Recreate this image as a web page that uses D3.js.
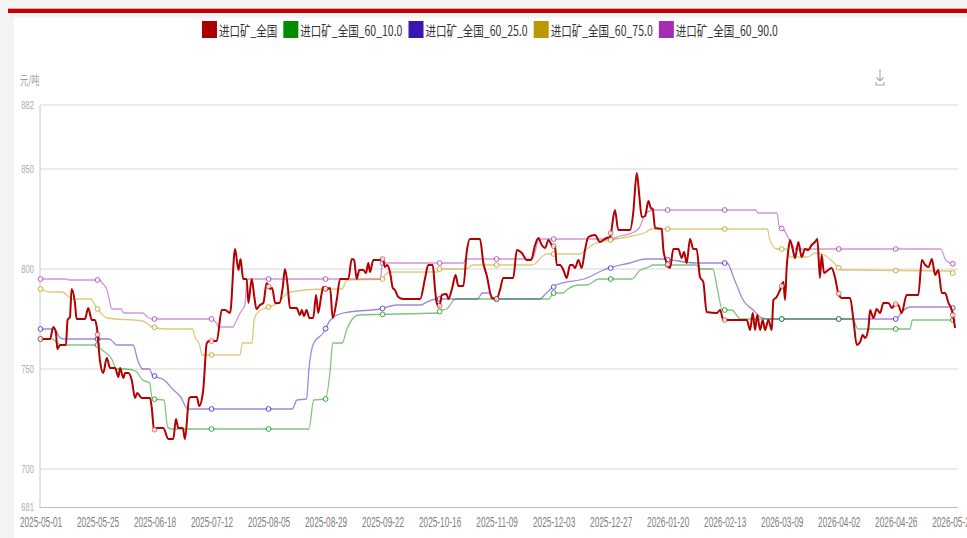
<!DOCTYPE html>
<html lang="zh">
<head>
<meta charset="UTF-8">
<title>进口矿价格</title>
<script src="https://d3js.org/d3.v7.min.js"></script>
<style>
  html, body { margin: 0; padding: 0; background: #f4f4f4; overflow: hidden; }
  svg { display: block; }
</style>
</head>
<body>
<div id="chart"></div>
<script>
// day offsets are counted from startDate
var startDate = "2025-05-01";
var tickStepDays = 24;
var tickCount = 17;
var yTicks = [681, 700, 750, 800, 850, 882];
var yUnit = "元/吨";

var seriesNames = ["进口矿_全国", "进口矿_全国_60_10.0", "进口矿_全国_60_25.0", "进口矿_全国_60_75.0", "进口矿_全国_60_90.0"];
var seriesColors = ["#ac0000", "#008c00", "#3a16b4", "#b99800", "#a42db2"];

var redAll = [[0,765],[4,765],[5.4,771],[6.5,768],[7.1,760],[8.2,762],[10.7,762],[11.4,774.5],[12.4,776],[13.1,790],[14.5,783],[15.2,775],[18.7,775],[20.1,780.5],[21.6,774.5],[22.9,774.5],[23.7,771],[25,754.5],[26.4,748],[27.9,755.5],[29.3,750.5],[31.4,750.5],[32.8,746],[33.5,750.5],[34.9,745.5],[35.6,748],[37,748],[38.4,744.5],[39.8,735.5],[40.7,738],[42.6,735.5],[46.1,735.5],[46.8,731],[47.8,719.5],[48.9,720.5],[51.7,720.5],[53.8,715],[55.9,715],[57,725],[58,720.5],[59.9,720.5],[60.8,715],[62.6,735.5],[63.6,736],[65.8,736],[66.8,731.5],[68.5,739.5],[70,763],[71.1,764],[74.2,764],[76.3,779.5],[77.7,779.5],[79.8,778],[81.9,810],[83.3,799.5],[84.2,805],[85.3,795],[86.8,795],[87.5,783],[88.9,795],[89.9,787],[90.9,780],[92.4,782],[93.8,783],[95.2,793],[96.6,790],[97.5,790.5],[98.8,783],[100.6,783],[102,791],[102.9,800],[104.1,791],[105,780.5],[107.8,780.5],[109.2,777],[110,779.5],[110.9,776.5],[112,779.5],[113.2,775.5],[114.8,775.5],[116,787],[116.9,778],[118.1,786],[119,791],[120.2,790],[121.9,790.5],[123,775.5],[124.7,784.5],[126.1,795],[129.6,795],[131,805],[132,804.5],[133.1,795],[134.2,799.5],[135.9,799.5],[137,798],[138,803],[138.7,798.5],[140.1,804.5],[142.9,804.5],[144.1,805],[145,801],[146,802],[147.1,798.5],[148.3,790.5],[149.2,789.5],[150.6,786],[152.7,785],[159.8,785],[161.9,795.5],[163.2,802],[165.1,802],[166.1,789.5],[166.8,783],[167.9,781],[168.9,787],[170.9,787.5],[171.7,785],[173.4,791],[174.7,797],[175.9,791.5],[178,791.5],[179.4,808.5],[180.8,815],[185,815],[186.4,803],[187.8,797],[190,785.5],[192,785],[193.4,789.5],[194.8,795.5],[199,795.5],[200.5,809.5],[202.6,808],[204.7,804.5],[206.5,804.5],[208.2,812],[209.6,815.5],[211,812],[212.4,810.5],[213.8,814.5],[215.2,812],[216.6,811],[217.3,802],[218.7,802],[220.1,799.5],[221.5,795.5],[222.9,802],[224,802],[225,800.5],[226.4,804.5],[227.8,800.5],[229.2,809.5],[230.6,816],[233.4,817],[235.5,813.5],[236.9,814.5],[238.3,815.5],[239.7,816],[241.8,829.5],[243.2,819.5],[248.2,819.5],[249.5,828],[251,848],[252.1,836],[253.1,826],[254.5,826.5],[255.9,834],[256.9,830.5],[257.7,830],[258.7,820.5],[261.5,820],[262.2,809.5],[263.6,803],[265,800.5],[266.4,810],[268.5,810],[269.9,805.5],[270.9,808.5],[272,803],[273.4,815],[274.8,810],[276.2,810],[277.6,796],[279,793.5],[280.4,778.5],[284.7,778],[286.1,779.5],[287.4,774.5],[297.3,774.5],[298.7,769.5],[299.8,778],[300.8,769.5],[301.7,777],[302.9,769.5],[304,774.5],[305,769.5],[306.4,774.5],[307.8,769.5],[308.5,784.5],[309.9,786],[311.3,789.5],[312.7,793.5],[313.4,784.5],[314.1,801],[314.8,809.5],[315.5,814.5],[316.7,809.5],[317.6,805.5],[319,813.5],[320.4,806],[321.8,810],[323.2,809.5],[324.6,812],[326,813.5],[327,815],[328.1,795.5],[328.8,807],[329.8,798],[331.6,799.5],[333,800.5],[334.4,796],[335.8,788],[337.3,785.5],[340.8,785.5],[342.2,774.5],[343.6,762],[345,763.5],[346.1,767],[347.1,765.5],[348.5,770.5],[349.2,779.5],[350.6,775.5],[352,780],[353.4,778],[354.8,783],[356.9,783],[358.4,780.5],[359.8,782.5],[361.1,782],[362.5,778],[364.6,787],[369.5,787],[371,804.5],[372.4,802],[373.8,801],[375.2,805],[376.6,797],[377.9,799.5],[379.4,788],[380.8,788],[382.2,783],[383.6,779.5],[385,770.5]];

var green10 = [[0,765],[5,765],[7,763],[9.5,762],[24,762],[25,760.5],[30,755],[32,750],[36,750],[40,749],[43,744.5],[46,743],[47,735],[52,734.5],[53.5,721],[55,720],[113,720],[115,734.5],[120,735],[122,750],[123,763],[127,763],[129,770],[131,774.5],[134,777],[167,778],[169,779.5],[171,780],[174,784.5],[175,785],[214,785],[216,788],[220,788],[222,790],[227,792],[230,792],[235,795],[249,795],[252,799],[256,801],[258,802],[276,802],[278,800],[283,800],[285,789.5],[287,779.5],[291,779.5],[293,777],[294.5,775],[342,775],[344,770],[366,770],[367,774.5],[385,774.5]];

var purple25 = [[0,770],[6,770],[8,766],[9.5,765],[29,765],[31,763],[32,762],[39,762],[41,754],[43,750],[46,750],[47,747],[52,744.5],[56,739.5],[59,736],[62,730],[106,730],[108,734.5],[112,735],[113,750],[115,763],[119,768],[122,774.5],[125,777],[130,778.5],[143,780],[150,782],[160,782],[163,783.7],[167,785],[184,785],[186,788],[189,788],[191,785],[210,785],[213,788],[217,792],[230,795.5],[237,799.5],[248,803],[255,805],[261,805],[276,803],[289,803],[292,795],[296,784],[300,779.5],[303,776],[306,775],[360,775],[363,779],[366,781],[383,781],[385,780]];

var gold75 = [[0,790],[4,788.5],[9,788.5],[12,786],[13,785],[21,785],[24,780],[28,775.5],[43,774],[47,771],[53,770],[64,770],[65,766],[67,762],[68,757],[84,757],[85,763],[89,763],[90,775],[92,779],[96,781],[100,783],[103,787],[105,788.5],[119,790],[127,790],[129,794.5],[144,795],[145,797],[147,798.5],[167,798.5],[168,800],[179,800],[182,802],[207,802],[213,807.5],[227,807.5],[230,810],[233,812.5],[240,814.5],[249,816.5],[255,818.5],[257,820],[306,820],[307,814.5],[310,810],[314,810],[315.5,806],[323,806],[326,808],[330,807],[334,803],[337,799.5],[383,799],[385,797]];

var magenta90 = [[0,795],[11,795],[12,794.5],[25,794.5],[26,793],[28,789.5],[29,784.5],[30,780],[34,780],[35,778],[43,778],[45,776],[47,775],[72,775],[74,773],[75,771],[81,771],[82,773],[84,778],[86,782],[87,794.5],[88,795],[143,795],[144,803],[178,803],[179,805],[207,805],[210,815],[240,815],[244,816.5],[249,818],[252,820.5],[255,828],[258,829.5],[301,829.5],[302,828],[310,828],[311,821],[313,819.5],[315,815],[318,810],[379,810],[381,804.5],[385,802]];

var seriesData = [redAll, green10, purple25, gold75, magenta90];

var width = 967, height = 538;
var t0 = d3.utcParse("%Y-%m-%d")(startDate);
function dayToDate(d) { return new Date(t0.getTime() + d * 86400000); }

var svg = d3.select("#chart").append("svg")
    .attr("width", width)
    .attr("height", height);

// page frame
svg.append("rect").attr("width", width).attr("height", height).attr("fill", "#f4f4f4");
svg.append("rect").attr("x", 14).attr("y", 18).attr("width", width - 14).attr("height", height - 18).attr("fill", "#ffffff");
svg.append("rect").attr("x", 8).attr("y", 8).attr("width", width - 8).attr("height", 1).attr("fill", "#e6a3a3");
svg.append("rect").attr("x", 8).attr("y", 9).attr("width", width - 8).attr("height", 4).attr("fill", "#c40000");

var x = d3.scaleUtc()
    .domain([t0, d3.utcDay.offset(t0, 386)])
    .range([40.5, 957.5]);

var y = d3.scaleLinear()
    .domain([681, 882])
    .range([507, 105]);

// gridlines
svg.append("g").selectAll("line")
    .data(yTicks.slice(1))
    .enter().append("line")
    .attr("x1", 40).attr("x2", 958)
    .attr("y1", function (d) { return y(d); })
    .attr("y2", function (d) { return y(d); })
    .attr("stroke", "#d6d6d6")
    .attr("stroke-width", 1);

// x axis
var tickDates = d3.range(tickCount).map(function (i) { return dayToDate(i * tickStepDays); });
var xAxis = svg.append("g")
    .attr("transform", "translate(0,507)")
    .call(d3.axisBottom(x).tickValues(tickDates).tickFormat(d3.utcFormat("%Y-%m-%d"))
        .tickSize(0).tickSizeOuter(0).tickPadding(10));
xAxis.select(".domain").attr("stroke", "#bdbdbd").attr("d", "M39.5,0.5H958");
xAxis.selectAll("text")
    .attr("font-family", "'Liberation Sans', Arial, sans-serif")
    .attr("font-size", 14)
    .attr("fill", "#808080")
    .attr("transform", "scale(0.59,1)");

// y axis
var yAxis = svg.append("g")
    .attr("transform", "translate(39.5,0)")
    .call(d3.axisLeft(y).tickValues(yTicks).tickSize(0).tickSizeOuter(0).tickPadding(8));
yAxis.select(".domain").attr("stroke", "#c8c8c8");
yAxis.selectAll("text")
    .attr("font-family", "'Liberation Sans', Arial, sans-serif")
    .attr("font-size", 11)
    .attr("fill", "#ababab")
    .attr("transform", "scale(0.69,1)");

// unit label
svg.append("text")
    .attr("transform", "translate(20,85) scale(0.68,1)")
    .attr("font-family", "'Noto Sans CJK SC', sans-serif")
    .attr("font-size", 12)
    .attr("fill", "#a0a0a0")
    .text(yUnit);

// download icon
svg.append("path")
    .attr("d", "M880,69V81M876.5,77.5L880,81L883.5,77.5M876,82V85H884V82")
    .attr("fill", "none")
    .attr("stroke", "#a8a8a8")
    .attr("stroke-width", 1.1);

// lines
var line = d3.line()
    .x(function (d) { return x(dayToDate(d[0])); })
    .y(function (d) { return y(d[1]); })
    .curve(d3.curveMonotoneX);

function valueAt(data, day) {
    var i = d3.bisector(function (d) { return d[0]; }).left(data, day);
    if (i <= 0) return data[0][1];
    if (i >= data.length) return data[data.length - 1][1];
    var a = data[i - 1], b = data[i];
    var t = (day - a[0]) / (b[0] - a[0]);
    return a[1] + t * (b[1] - a[1]);
}

var drawOrder = [4, 3, 2, 1, 0];
drawOrder.forEach(function (k) {
    var data = seriesData[k];
    var isMain = k === 0;
    svg.append("path")
        .datum(data)
        .attr("fill", "none")
        .attr("stroke", isMain ? "#b30000" : seriesColors[k])
        .attr("stroke-opacity", isMain ? 1 : 0.5)
        .attr("stroke-width", isMain ? 2 : 1.3)
        .attr("stroke-linejoin", "round")
        .attr("d", line);

    var marks = d3.range(tickCount).map(function (i) {
        var day = i * tickStepDays;
        return [day, valueAt(data, day)];
    });
    svg.append("g").selectAll("circle")
        .data(marks)
        .enter().append("circle")
        .attr("cx", function (d) { return x(dayToDate(d[0])); })
        .attr("cy", function (d) { return y(d[1]); })
        .attr("r", 2.4)
        .attr("fill", "#ffffff")
        .attr("fill-opacity", 0.8)
        .attr("stroke", seriesColors[k])
        .attr("stroke-opacity", isMain ? 0.55 : 0.75)
        .attr("stroke-width", 1);
});

// legend
var legend = svg.append("g");
var textScale = 0.75;
var items = legend.selectAll("g")
    .data(seriesNames)
    .enter().append("g");
items.append("rect")
    .attr("width", 15).attr("height", 17)
    .attr("y", 21)
    .attr("fill", function (d, i) { return seriesColors[i]; });
items.append("text")
    .attr("font-family", "'Noto Sans CJK SC', sans-serif")
    .attr("font-size", 14)
    .attr("fill", "#333333")
    .attr("dominant-baseline", "central")
    .text(function (d) { return d; });

var widths = [];
items.select("text").each(function () { widths.push(this.getComputedTextLength() * textScale); });
var total = d3.sum(widths) + seriesNames.length * 17 + (seriesNames.length - 1) * 6;
var cursor = 490 - total / 2;
items.each(function (d, i) {
    var g = d3.select(this);
    g.select("rect").attr("x", cursor);
    g.select("text").attr("transform", "translate(" + (cursor + 17) + ",30) scale(" + textScale + ",1)");
    cursor += 17 + widths[i] + 6;
});
</script>
</body>
</html>
